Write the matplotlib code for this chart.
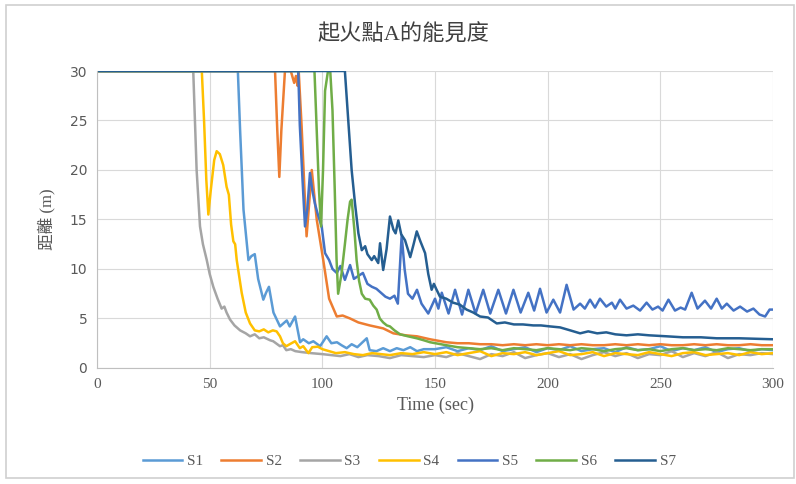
import matplotlib
matplotlib.use("Agg")
import matplotlib.pyplot as plt
from matplotlib.patches import Rectangle

plt.rcParams['font.family'] = ['Liberation Serif', 'Noto Sans CJK TC']

# --- data (time in sec, distance in m) ---
series_names = ["S1", "S2", "S3", "S4", "S5", "S6", "S7"]
series_colors = ["#5B9BD5", "#ED7D31", "#A5A5A5", "#FFC000", "#4472C4", "#70AD47", "#255E91"]

tail_t = [150, 155, 160, 165, 170, 175, 180, 185, 190, 195, 200, 205, 210, 215, 220,
          225, 230, 235, 240, 245, 250, 255, 260, 265, 270, 275, 280, 285, 290, 295, 300]

s1_t = [0, 62.5, 63.5, 65, 67.2, 68.5, 70, 71.5, 73.8, 75, 76.3, 78.3, 81.2, 84.2, 85.5, 87.9,
        90.1, 91.5, 94, 96, 99, 101.9, 104, 106.5, 108.5, 110.8, 113, 115.5, 119.7, 121, 124,
        127, 130, 133, 136, 139, 142, 145] + tail_t
s1_v = [30, 30, 24, 16, 10.9, 11.3, 11.5, 9.0, 6.9, 7.6, 8.2, 5.6, 4.2, 4.8, 4.2, 5.2,
        2.6, 2.9, 2.5, 2.7, 2.2, 3.2, 2.5, 2.6, 2.3, 2.0, 2.4, 2.1, 3.0, 1.8, 1.7,
        2.0, 1.7, 2.0, 1.8, 2.1, 1.7, 1.9,
        1.9, 2.1, 1.7, 2.0, 1.8, 2.2, 1.7, 1.9, 2.1, 1.6, 2.0, 1.8, 2.2, 1.7, 1.9, 2.0,
        1.6, 2.1, 1.8, 1.9, 2.2, 1.7, 2.0, 1.8, 2.1, 1.6, 1.9, 2.0, 1.7, 1.9, 1.8]

s2_t = [0, 79, 80, 80.9, 81.8, 83.4, 86, 87.5, 88.3, 89, 89.5, 90.8, 93, 95.3, 97.5, 100.4,
        103, 106.4, 109, 112.3, 116, 121, 127, 131.5, 137, 142, 147.8] + tail_t[1:]
s2_v = [30, 30, 24, 19.3, 24, 30, 30, 28.8, 29.5, 28.5, 30, 24.4, 13.3, 20, 15, 10.9,
        7.0, 5.2, 5.3, 5.0, 4.6, 4.3, 4.0, 3.5, 3.3, 3.2, 2.9,
        2.6, 2.5, 2.5, 2.4, 2.4, 2.3, 2.4, 2.3, 2.4, 2.3, 2.4, 2.3, 2.4, 2.3,
        2.3, 2.4, 2.3, 2.4, 2.3, 2.4, 2.3, 2.3, 2.4, 2.3, 2.4, 2.3, 2.3, 2.4, 2.3, 2.3]

s3_t = [0, 42.7, 44.2, 45.7, 47, 48.7, 50, 51.6, 53.5, 55.3, 56.5, 57.5, 59, 61, 63.5, 66,
        67.9, 70, 72, 74, 76.8, 78.2, 80, 81.2, 82.5, 84, 86, 88, 91, 95, 100, 104, 108,
        112, 116, 120, 125, 130, 135, 140, 145] + tail_t
s3_v = [30, 30, 20, 14.3, 12.5, 10.9, 9.5, 8.2, 7.0, 6.0, 6.2, 5.6, 4.9, 4.3, 3.8, 3.5,
        3.2, 3.4, 3.0, 3.1, 2.8, 2.7, 2.4, 2.2, 2.3, 1.8, 1.9, 1.7, 1.6, 1.5, 1.4, 1.3, 1.2,
        1.4, 1.1, 1.3, 1.2, 1.0, 1.3, 1.2, 1.1,
        1.3, 1.1, 1.5, 1.2, 0.9, 1.4, 1.2, 1.6, 1.0, 1.3, 1.5, 1.1, 1.4, 0.9, 1.3, 1.6,
        1.2, 1.5, 1.0, 1.4, 1.3, 1.7, 1.1, 1.5, 1.2, 1.6, 1.0, 1.4, 1.3, 1.5, 1.4]

s4_t = [0, 46.5, 47.5, 48.5, 49.4, 50.5, 52, 53.1, 54.5, 56, 57.5, 58.5, 59.5, 60.5, 61.3,
        62, 64.2, 66, 67.9, 70, 72, 74, 76, 78, 79.7, 81.2, 82.5, 84, 85.5, 87.9, 90, 91.5,
        93.8, 95.5, 98, 100, 103, 106, 110, 114, 118, 122, 126, 130, 135, 140, 145] + tail_t
s4_v = [30, 30, 25, 19, 15.5, 18, 21, 21.9, 21.6, 20.5, 18.3, 17.5, 14.5, 12.8, 12.5,
        10.9, 7.6, 5.6, 4.5, 3.8, 3.7, 3.9, 3.6, 3.8, 3.7, 3.2, 2.5, 2.2, 2.4, 2.7, 2.0, 2.2,
        1.5, 2.1, 2.15, 1.9, 1.7, 1.5, 1.6, 1.4, 1.3, 1.5, 1.4, 1.3, 1.5, 1.4, 1.6,
        1.4, 1.6, 1.3, 1.5, 1.7, 1.2, 1.5, 1.4, 1.6, 1.3, 1.5, 1.7, 1.3, 1.4, 1.6, 1.2,
        1.5, 1.4, 1.3, 1.6, 1.4, 1.2, 1.5, 1.6, 1.3, 1.4, 1.5, 1.3, 1.6, 1.4, 1.5]

s5_t = [0, 89.3, 90, 91.2, 92.3, 93.3, 94.5, 95.5, 96.7, 98, 99.7, 101.2, 103, 104.5, 106.4,
        108, 110, 112.3, 114, 116, 118, 120, 122, 124, 126, 128, 130, 132, 133.5, 135.2,
        136.5, 138, 140, 142, 144, 147, 150, 151.5, 153, 156, 158.9, 162, 164.8, 168, 171.4,
        174.5, 178.1, 181.5, 184.8, 188, 191.4, 194, 196.6, 199.5, 202.5, 205.5, 208.4,
        211.5, 214.4, 216.5, 218.8, 221, 223.2, 226, 228.5, 230, 232.1, 235, 238, 241,
        243.9, 246.5, 249, 251, 253.6, 256.5, 259, 261, 263.9, 266.5, 269.8, 272.5, 275,
        277.3, 279.5, 282.5, 285.4, 288.5, 291.3, 294, 296.5, 298.5, 300]
s5_v = [30, 30, 24.5, 19, 14.3, 16, 19.7, 18, 16.6, 15.5, 14.3, 11.6, 10.9, 10.0, 9.6,
        10.3, 8.9, 10.4, 9.0, 9.3, 9.6, 8.5, 8.2, 8.0, 7.6, 7.2, 7.0, 7.3, 6.5, 13.4,
        10.0, 7.5, 7.0, 7.9, 6.5, 5.5, 7.0, 6.0, 7.6, 5.5, 7.9, 5.4, 7.9, 5.5, 7.9,
        5.5, 7.9, 5.5, 7.9, 5.6, 7.6, 5.8, 8.0, 5.6, 6.9, 5.6, 8.4,
        5.9, 6.5, 6.0, 6.9, 6.1, 7.0, 6.2, 6.6, 6.0, 6.9, 6.0, 6.3, 5.8,
        6.6, 5.9, 6.2, 5.8, 6.9, 5.8, 6.1, 5.9, 7.6, 6.0, 6.8, 6.0, 7.0,
        6.0, 6.5, 5.8, 6.2, 5.7, 6.0, 5.4, 5.2, 5.9, 5.9]

s6_t = [0, 96.5, 97.5, 98.5, 99.4, 100.3, 101.2, 102.5, 103.5, 104.5, 105.5, 106.3, 107,
        108.5, 110, 111.2, 112.3, 113, 114.2, 115.2, 116.3, 117.5, 119, 121, 122.6, 124.1,
        125.5, 127, 128.6, 130, 132, 134.5, 138, 141.9, 145, 147.8] + tail_t[1:]
s6_v = [30, 30, 24, 18, 14.3, 20, 28, 30, 30, 26, 18, 11, 7.5,
        9.5, 12.5, 15, 16.8, 17, 14, 10.9, 8.8, 7.5, 7.0, 6.9, 6.3, 5.9,
        5.0, 4.6, 4.3, 4.2, 3.8, 3.4, 3.2, 3.0, 2.8, 2.6,
        2.3, 2.1, 2.0, 1.9, 2.0, 1.8, 2.0, 1.9, 1.8, 2.0, 1.9, 1.8, 2.0, 1.9,
        1.7, 1.9, 2.0, 1.8, 1.9, 1.7, 1.9, 2.0, 1.8, 1.9, 1.8, 2.0, 1.9, 1.8, 1.9, 1.9]

s7_t = [0, 110, 111.5, 113, 114.5, 116, 117.5, 119, 120, 121.9, 123, 124.8, 125.6, 127,
        128.5, 130, 131.5, 132.5, 133.7, 135, 136.7, 139, 140.5, 141.9, 143.5, 145.6, 147,
        148.5, 149.5, 150.5, 152.2, 155, 158, 161, 164, 167, 170, 173.5, 177.4, 181, 185,
        189, 193.6, 197, 201, 205.5, 210, 214.4, 218, 222, 226, 230, 235, 240, 245, 252.8,
        260, 268, 275, 285, 300]
s7_v = [30, 30, 25, 20, 16.6, 13.6, 11.9, 12.3, 11.5, 10.9, 11.3, 10.6, 12.6, 9.9,
        12.0, 15.3, 14.0, 13.6, 14.9, 13.5, 12.9, 11.2, 12.5, 13.8, 12.8, 11.6, 9.5,
        7.9, 8.5, 8.0, 7.2, 7.0, 6.6, 6.4, 5.9, 5.6, 5.2, 5.1, 4.5, 4.6, 4.4,
        4.4, 4.3, 4.3, 4.2, 4.1, 3.8, 3.5, 3.7, 3.5, 3.6, 3.4, 3.3, 3.4, 3.3, 3.2,
        3.1, 3.1, 3.0, 3.0, 2.9]

all_t = [s1_t, s2_t, s3_t, s4_t, s5_t, s6_t, s7_t]
all_v = [s1_v, s2_v, s3_v, s4_v, s5_v, s6_v, s7_v]

x_ticks = [0, 50, 100, 150, 200, 250, 300]
y_ticks = [0, 5, 10, 15, 20, 25, 30]

title_text = "起火點A的能見度"
x_label = "Time (sec)"
y_label = "距離 (m)"

# --- figure ---
fig = plt.figure(figsize=(7.96, 4.84), dpi=100)
fig.patches.append(Rectangle((0.0075, 0.012), 0.99, 0.977, transform=fig.transFigure,
                             fill=False, edgecolor="#D0D0D0", linewidth=1.2))
ax = fig.add_axes([0.1219, 0.2397, 0.8492, 0.6136])

for t, v, name, c in zip(all_t, all_v, series_names, series_colors):
    ax.plot(t, v, color=c, linewidth=1.8, label=name, solid_joinstyle="round")

ax.set_xlim(0, 300)
ax.set_ylim(0, 30)
ax.set_xticks(x_ticks)
ax.set_yticks(y_ticks)
ax.grid(True, color="#D9D9D9", linewidth=0.8)
ax.set_axisbelow(True)
for side in ["top", "right"]:
    ax.spines[side].set_visible(False)
for side in ["left", "bottom"]:
    ax.spines[side].set_color("#BFBFBF")
    ax.spines[side].set_linewidth(0.8)
ax.tick_params(length=0, colors="#595959", labelsize=11, pad=7)
for lab in ax.get_yticklabels():
    lab.set_fontfamily("DejaVu Sans")
    lab.set_fontsize(10)

fig.text(0.507, 0.927, title_text, ha="center", va="center", fontsize=16,
         color="#404040", fontweight="light")
ax.set_xlabel(x_label, fontsize=13, color="#595959", labelpad=4)
ax.set_ylabel(y_label, fontsize=12, color="#595959", labelpad=10)

fig.legend(loc="center", bbox_to_anchor=(0.514, 0.047), ncol=7, frameon=False,
           fontsize=11, handlelength=2.6, columnspacing=1.2, handletextpad=0.3,
           labelcolor="#595959")

fig.savefig("out.png", dpi=100)
